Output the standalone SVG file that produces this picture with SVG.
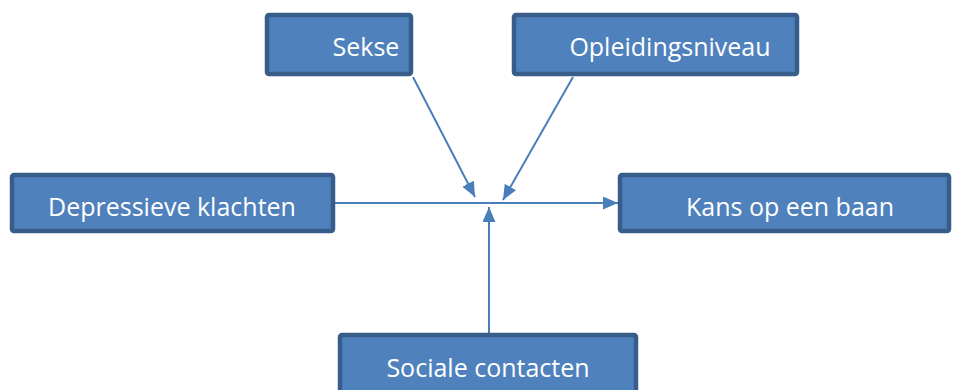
<svg xmlns="http://www.w3.org/2000/svg" width="954" height="390" viewBox="0 0 954 390">
<style>
.box{fill:#4F81BD;stroke:#385D8A;stroke-width:4.5}
.lbl{font-family:"Open Sans","Liberation Sans",sans-serif;font-size:25px;fill:#FFFFFF;text-anchor:middle;dominant-baseline:central}
.con{stroke:#4A7EBB;stroke-width:2;fill:none}
</style>
<defs>
<marker id="ahb" markerWidth="15" markerHeight="13" refX="15" refY="6.5" orient="auto" markerUnits="userSpaceOnUse">
<path d="M0,0 L15,6.5 L0,13 Z" fill="#4A7EBB"/>
</marker>
</defs>
<g id="connectors">
<line class="con" x1="335" y1="203" x2="618" y2="203" marker-end="url(#ahb)"/>
<line class="con" x1="413" y1="77" x2="475" y2="197" marker-end="url(#ahb)"/>
<line class="con" x1="573" y1="77" x2="503" y2="200" marker-end="url(#ahb)"/>
<line class="con" x1="489" y1="333" x2="489" y2="207" marker-end="url(#ahb)"/>
</g>
<g id="sekse">
<rect class="box" x="267" y="15" width="144" height="59" rx="2"/>
<text class="lbl" x="366" y="46">Sekse</text>
</g>
<g id="opleidingsniveau">
<rect class="box" x="514" y="15" width="283" height="59" rx="2"/>
<text class="lbl" x="670" y="46">Opleidingsniveau</text>
</g>
<g id="depressieve">
<rect class="box" x="12" y="175" width="321" height="56" rx="2"/>
<text class="lbl" x="172" y="206">Depressieve klachten</text>
</g>
<g id="kans">
<rect class="box" x="620" y="175" width="329" height="56" rx="2"/>
<text class="lbl" x="790" y="206">Kans op een baan</text>
</g>
<g id="sociale">
<rect class="box" x="340" y="335" width="296" height="70" rx="2"/>
<text class="lbl" x="488" y="367">Sociale contacten</text>
</g>
</svg>
